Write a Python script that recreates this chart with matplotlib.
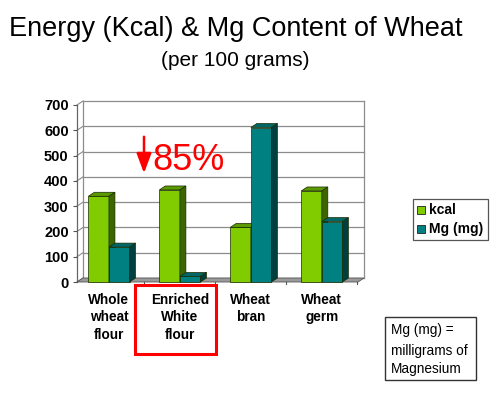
import matplotlib
matplotlib.use("Agg")
import matplotlib.pyplot as plt
from matplotlib.patches import Polygon, Rectangle, FancyArrowPatch

categories = ["Whole\nwheat\nflour", "Enriched\nWhite\nflour", "Wheat\nbran", "Wheat\ngerm"]
kcal = [339, 364, 216, 360]
mg = [138, 22, 611, 239]
series_names = ["kcal", "Mg (mg)"]
yticks = [0, 100, 200, 300, 400, 500, 600, 700]

plt.rcParams['font.family'] = ['Liberation Sans', 'DejaVu Sans']

W, H = 500, 399
fig = plt.figure(figsize=(W / 100, H / 100), dpi=100)

def fx(px):
    return px / W

def fy(py):
    return 1 - py / H

# front plane of axes
x0, x1, ytop, ybot = 77, 358, 105, 282
ax = fig.add_axes([fx(x0), fy(ybot), fx(x1 - x0), (ybot - ytop) / H])
xmin, xmax = -0.45, 3.51
ax.set_xlim(xmin, xmax)
ax.set_ylim(0, 700)
for s in ax.spines.values():
    s.set_visible(False)
ax.set_xticks([])
ax.set_yticks(yticks)
ax.set_yticklabels([str(v) for v in yticks], fontsize=10.5, fontweight='bold')
ax.tick_params(axis='y', length=3, width=0.8, color='#555555', pad=3)
ax.patch.set_visible(False)

# depth offset in pixels -> data units
dxp, dyp = 6, 4
ux = (xmax - xmin) / (x1 - x0)
uy = 700 / (ybot - ytop)
DX, DY = dxp * ux, dyp * uy

# back wall grid
for v in yticks:
    ax.plot([xmin + DX, xmax + DX], [v + DY, v + DY], color='#8c8c8c', lw=0.9, zorder=1, clip_on=False)
ax.plot([xmin + DX, xmin + DX], [DY, 700 + DY], color='#8c8c8c', lw=0.9, zorder=1, clip_on=False)
ax.plot([xmax + DX, xmax + DX], [DY, 700 + DY], color='#8c8c8c', lw=0.9, zorder=1, clip_on=False)
# side wall
for v in yticks:
    ax.plot([xmin, xmin + DX], [v, v + DY], color='#8c8c8c', lw=0.8, zorder=1, clip_on=False)
ax.plot([xmin, xmin], [0, 700], color='#666666', lw=0.9, zorder=1, clip_on=False)
# floor
floor = Polygon([[xmin, 0], [xmax, 0], [xmax + DX, DY], [xmin + DX, DY]],
                closed=True, facecolor='#9a9a9a', edgecolor='#555555', lw=0.6, zorder=2, clip_on=False)
ax.add_patch(floor)
for i in range(1, 5):
    xx = i - 0.5
    ax.plot([xx, xx], [0, -8], color='#555555', lw=0.8, clip_on=False, zorder=2)

bw = 0.29
face_cols = [('#80cc00', '#5a9900', '#3d6600'), ('#008080', '#006666', '#003f3f')]

def bar3d(xl, h, cols, z):
    front, top, side = cols
    ax.add_patch(Rectangle((xl, 0), bw, h, facecolor=front, edgecolor='#1a2a00', lw=0.5, zorder=z, clip_on=False))
    ax.add_patch(Polygon([[xl, h], [xl + bw, h], [xl + bw + DX, h + DY], [xl + DX, h + DY]],
                         closed=True, facecolor=top, edgecolor='#1a2a00', lw=0.5, zorder=z, clip_on=False))
    ax.add_patch(Polygon([[xl + bw, 0], [xl + bw + DX, DY], [xl + bw + DX, h + DY], [xl + bw, h]],
                         closed=True, facecolor=side, edgecolor='#1a2a00', lw=0.5, zorder=z, clip_on=False))

for i in range(len(categories)):
    bar3d(i - bw, kcal[i], face_cols[0], 3 + i * 2)
    bar3d(i, mg[i], face_cols[1], 4 + i * 2)
    ax.text(i, -44, categories[i], ha='center', va='top', fontsize=9.8, fontweight='bold',
            linespacing=1.3, clip_on=False)

# title
fig.text(fx(236), fy(29), "Energy (Kcal) & Mg Content of Wheat", ha='center', va='center', fontsize=19.5)
fig.text(fx(235), fy(61), "(per 100 grams)", ha='center', va='center', fontsize=15)

# legend
lx0, ly0, lx1, ly1 = 413, 199, 488, 240
fig.patches.append(Rectangle((fx(lx0), fy(ly1)), fx(lx1 - lx0), (ly1 - ly0) / H, transform=fig.transFigure,
                             facecolor='white', edgecolor='#555555', lw=0.9))
for k, (nm, col) in enumerate(zip(series_names, face_cols)):
    yy = 210 + k * 19
    fig.patches.append(Rectangle((fx(417), fy(yy + 4)), fx(8), 8 / H, transform=fig.transFigure,
                                 facecolor=col[0], edgecolor='#222222', lw=0.6))
    fig.text(fx(429), fy(yy), nm, ha='left', va='center', fontsize=10, fontweight='bold')

# note box
fig.patches.append(Rectangle((fx(385), fy(380)), fx(476 - 385), (380 - 317) / H, transform=fig.transFigure,
                             facecolor='white', edgecolor='#333333', lw=1.0))
fig.text(fx(391), fy(330), "Mg (mg) =", ha='left', va='center', fontsize=9.8)
fig.text(fx(391), fy(351), "milligrams of", ha='left', va='center', fontsize=9.8)
fig.text(fx(391), fy(369), "Magnesium", ha='left', va='center', fontsize=9.8)

# red highlight box
fig.patches.append(Rectangle((fx(135), fy(354)), fx(216 - 135), (354 - 285) / H, transform=fig.transFigure,
                             facecolor='none', edgecolor='#ff0000', lw=2.2))

# red arrow and label
arr = FancyArrowPatch((fx(144), fy(134)), (fx(144), fy(176)), transform=fig.transFigure,
                      arrowstyle='-|>,head_length=8,head_width=3', color='#ff0000', lw=1.8, mutation_scale=1.5)
fig.patches.append(arr)
fig.text(fx(152), fy(161), "85%", ha='left', va='center', fontsize=26, color='#ff0000')

fig.savefig("out.png", dpi=100)
